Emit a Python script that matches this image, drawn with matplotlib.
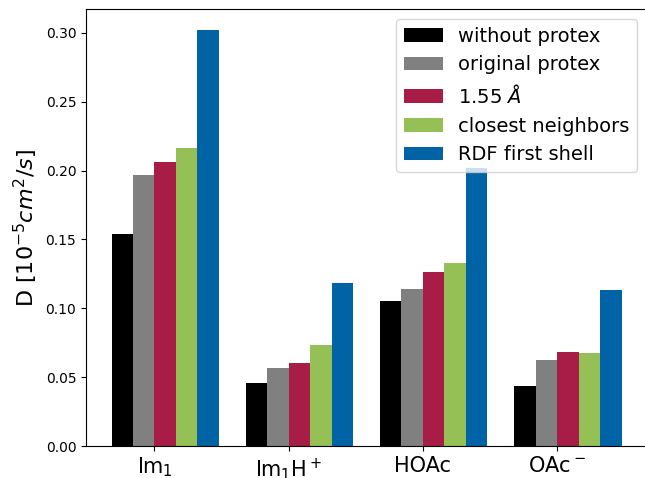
import numpy as np
import matplotlib
matplotlib.use('Agg')
import matplotlib.pyplot as plt

# diffusion coefficients per species and protex variant
species = ['Im$_1$', 'Im$_1$H$^+$', 'HOAc', 'OAc$^-$']
labels = ['without protex', 'original protex', '1.55 $\\AA$', 'closest neighbors', 'RDF first shell']
without_protex = [0.154, 0.0458, 0.105, 0.0436]
original_protex = [0.197, 0.0569, 0.1143, 0.0625]
cutoff_155 = [0.206, 0.0603, 0.1267, 0.0685]
closest_neighbors = [0.2166, 0.0734, 0.133, 0.0678]
rdf_first_shell = [0.3023, 0.1182, 0.2018, 0.1136]
colors = ['#000000', '#808080', '#A71D48', '#95C055', '#0063A6']

series = [without_protex, original_protex, cutoff_155, closest_neighbors, rdf_first_shell]

fig = plt.figure(figsize=(6.45, 4.78), dpi=100)
ax = fig.add_axes([86 / 645, 32 / 478, 561 / 645, 437 / 478])

x = np.arange(len(species))
w = 0.16
for i, (vals, lb, c) in enumerate(zip(series, labels, colors)):
    ax.bar(x + (i - 2) * w, vals, w, align='edge', color=c, label=lb)

ax.set_xticks(x)
ax.set_xticklabels(species, fontsize=15)
ax.set_ylabel('D [$10^{-5}cm^2/s$]', fontsize=16)
ax.legend(loc='upper right', fontsize=14)

plt.savefig('out.png', dpi=100)
